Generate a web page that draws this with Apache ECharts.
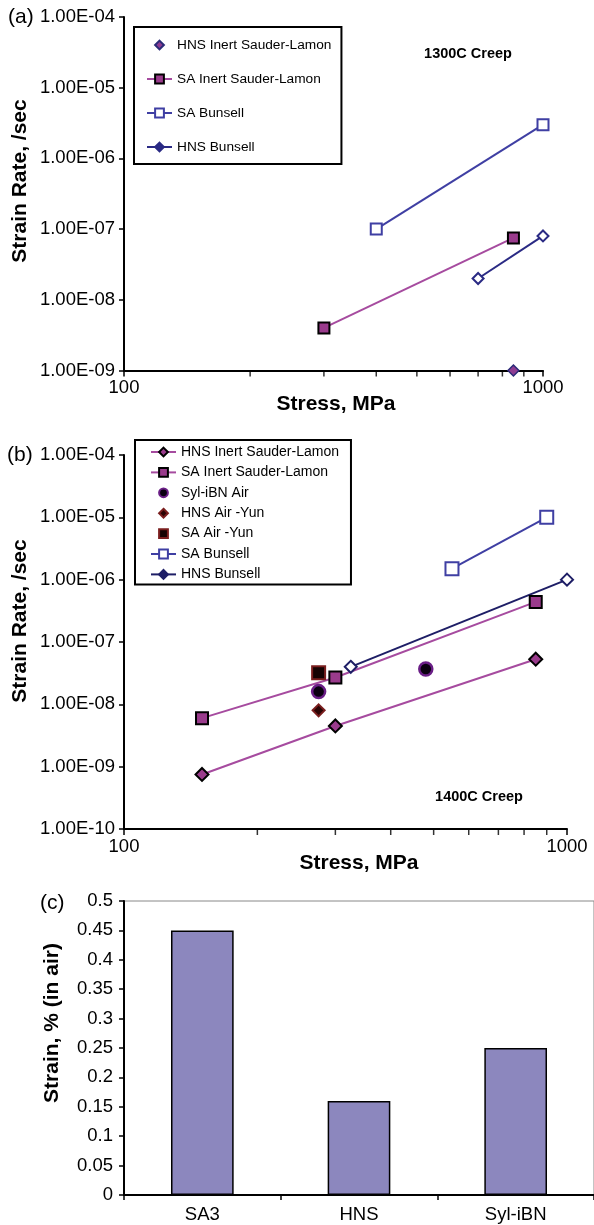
<!DOCTYPE html>
<html><head><meta charset="utf-8">
<script src="https://cdn.jsdelivr.net/npm/echarts@6/dist/echarts.min.js"></script>
<style>
html,body{margin:0;padding:0;background:#fff;width:594px;height:1225px;overflow:hidden}
#a,#b,#c{position:absolute;left:0;width:594px}
#a{top:0;height:430px}#b{top:430px;height:450px}#c{top:880px;height:345px}
</style></head><body>
<div id="a"></div><div id="b"></div><div id="c"></div>
<script>
// ---------- data ----------
const stressMin = 100, stressMax = 1000;
const stressMinorTicks = [200, 300, 400, 500, 600, 700, 800, 900];
// Panel (a) 1300C creep: [stress MPa, strain rate /sec]
const a_HNSInertSL = [[850, 1e-9]];
const a_SAInertSL = [[300, 4e-9], [850, 7.5e-8]];
const a_SABunsell = [[400, 1e-7], [1000, 3e-6]];
const a_HNSBunsell = [[700, 2e-8], [1000, 8e-8]];
const a_rateMin = 1e-9, a_rateMax = 1e-4;
// Panel (b) 1400C creep
const b_HNSInertSL = [[150, 7.5e-10], [300, 4.5e-9], [850, 5.3e-8]];
const b_SAInertSL = [[150, 6e-9], [300, 2.7e-8], [850, 4.4e-7]];
const b_SylAir = [[275, 1.6e-8], [480, 3.7e-8]];
const b_HNSAirYun = [[275, 8e-9]];
const b_SAAirYun = [[275, 3.2e-8]];
const b_SABunsell = [[550, 1.5e-6], [900, 1e-5]];
const b_HNSBunsell = [[325, 4e-8], [1000, 1e-6]];
const b_rateMin = 1e-10, b_rateMax = 1e-4;
// Panel (c)
const c_categories = ['SA3', 'HNS', 'Syl-iBN'];
const c_strain = [0.45, 0.16, 0.25];
const c_min = 0, c_max = 0.5, c_interval = 0.05;

// ---------- styling helpers ----------
const FONT = "'Liberation Sans', Arial, sans-serif";
const MAGENTA = '#A64B9F', MAGFILL = '#9A3B8C', BLUE = '#3F3FA3', NAVY_A = '#2A2A84', NAVY_B = '#1E1E66';

function sciLabel(v) {
  const s = Number(v).toExponential(2).toUpperCase();
  const m = s.match(/^(.*)E([+-])(\d+)$/);
  return m ? m[1] + 'E' + m[2] + m[3].padStart(2, '0') : s;
}
function logX() {
  return {
    type: 'log', logBase: 10, min: stressMin, max: stressMax, splitNumber: 1,
    axisLine: {show: true, lineStyle: {color: '#000', width: 2}},
    axisTick: {show: true, length: 6, lineStyle: {color: '#000', width: 1.5}},
    axisLabel: {color: '#000', fontSize: 18.5, fontFamily: FONT, margin: 8, formatter: v => String(Math.round(v))},
    splitLine: {show: false}
  };
}
function logY(min, max, split) {
  return {
    type: 'log', logBase: 10, min: min, max: max, splitNumber: split,
    axisLine: {show: true, lineStyle: {color: '#000', width: 2}},
    axisTick: {show: true, length: 5, lineStyle: {color: '#000', width: 1.5}},
    axisLabel: {color: '#000', fontSize: 18.5, fontFamily: FONT, margin: 9, formatter: sciLabel},
    splitLine: {show: false}
  };
}
function minorTickSeries(yMin) {
  return {
    type: 'scatter', silent: true, clip: false, z: 1, legendHoverLink: false,
    data: stressMinorTicks.map(v => [v, yMin]),
    symbol: 'rect', symbolSize: [1.5, 6], symbolOffset: [0, 3],
    itemStyle: {color: '#000'}
  };
}
// markers only (no connecting line): line series with hidden line, so the legend icon keeps its aspect
function markers(name, data, symbol, size, itemStyle) {
  return {
    name: name, type: 'line', data: data, symbol: symbol, symbolSize: size, showSymbol: true,
    clip: false, z: 5, emphasis: {disabled: true},
    lineStyle: {width: 0, opacity: 0}, itemStyle: itemStyle
  };
}
function txt(x, y, text, size, bold, align, rot) {
  return {
    type: 'text', x: x, y: y, rotation: rot || 0, silent: true,
    style: {text: text, fill: '#000', font: (bold ? 'bold ' : '') + size + 'px ' + FONT,
      align: align || 'center', verticalAlign: 'middle'}
  };
}
const noEmph = {disabled: true};

// ---------- chart (a) ----------
const ca = echarts.init(document.getElementById('a'), null, {renderer: 'canvas'});
ca.setOption({
  animation: false,
  grid: {left: 124, top: 17, width: 419, height: 353.5},
  xAxis: logX(),
  yAxis: logY(a_rateMin, a_rateMax, 5),
  legend: {
    orient: 'vertical', left: 134, top: 27, itemWidth: 25, itemHeight: 11, itemGap: 20,
    padding: [11, 10, 10, 12], backgroundColor: '#fff', borderColor: '#000', borderWidth: 2,
    selectedMode: false, textStyle: {fontSize: 13.7, fontFamily: FONT, color: '#000'},
    data: ['HNS Inert Sauder-Lamon', 'SA Inert Sauder-Lamon', 'SA Bunsell',
      {name: 'HNS Bunsell', itemStyle: {color: NAVY_A}}]
  },
  graphic: [
    txt(8, 17, '(a)', 21, false, 'left'),
    txt(468, 54, '1300C Creep', 14.5, true),
    txt(20, 181, 'Strain Rate, /sec', 21, true, 'center', Math.PI / 2),
    txt(336, 404, 'Stress, MPa', 21, true)
  ],
  series: [
    {name: 'SA Inert Sauder-Lamon', type: 'line', data: a_SAInertSL, symbol: 'rect', symbolSize: 11, emphasis: noEmph,
      lineStyle: {color: MAGENTA, width: 2}, itemStyle: {color: MAGFILL, borderColor: '#000', borderWidth: 2}},
    {name: 'SA Bunsell', type: 'line', data: a_SABunsell, symbol: 'rect', symbolSize: 11, emphasis: noEmph,
      lineStyle: {color: BLUE, width: 2}, itemStyle: {color: '#fff', borderColor: BLUE, borderWidth: 2}},
    {name: 'HNS Bunsell', type: 'line', data: a_HNSBunsell, symbol: 'diamond', symbolSize: 11, emphasis: noEmph,
      lineStyle: {color: NAVY_A, width: 2}, itemStyle: {color: '#fff', borderColor: NAVY_A, borderWidth: 2}},
    minorTickSeries(a_rateMin),
    markers('HNS Inert Sauder-Lamon', a_HNSInertSL, 'diamond', 11,
      {color: '#8E3C92', borderColor: '#2B2B78', borderWidth: 1.5})
  ]
});

// ---------- chart (b) ----------
const cb = echarts.init(document.getElementById('b'), null, {renderer: 'canvas'});
cb.setOption({
  animation: false,
  grid: {left: 124, top: 25, width: 443, height: 374},
  xAxis: logX(),
  yAxis: logY(b_rateMin, b_rateMax, 6),
  legend: {
    orient: 'vertical', left: 135, top: 10, itemWidth: 25, itemHeight: 11, itemGap: 6.4,
    padding: [5, 12, 3, 15], backgroundColor: '#fff', borderColor: '#000', borderWidth: 2,
    selectedMode: false, textStyle: {fontSize: 14, fontFamily: FONT, color: '#000'},
    data: ['HNS Inert Sauder-Lamon', 'SA Inert Sauder-Lamon', 'Syl-iBN Air', 'HNS Air -Yun', 'SA Air -Yun',
      'SA Bunsell', {name: 'HNS Bunsell', itemStyle: {color: NAVY_B}}]
  },
  graphic: [
    txt(7, 25, '(b)', 21, false, 'left'),
    txt(479, 367, '1400C Creep', 14.5, true),
    txt(20, 191, 'Strain Rate, /sec', 21, true, 'center', Math.PI / 2),
    txt(359, 433, 'Stress, MPa', 21, true)
  ],
  series: [
    {name: 'HNS Inert Sauder-Lamon', type: 'line', data: b_HNSInertSL, symbol: 'diamond', symbolSize: 13, emphasis: noEmph,
      lineStyle: {color: MAGENTA, width: 2}, itemStyle: {color: MAGFILL, borderColor: '#000', borderWidth: 2}},
    {name: 'SA Inert Sauder-Lamon', type: 'line', data: b_SAInertSL, symbol: 'rect', symbolSize: 12, emphasis: noEmph,
      lineStyle: {color: MAGENTA, width: 2}, itemStyle: {color: MAGFILL, borderColor: '#000', borderWidth: 2}},
    {name: 'SA Bunsell', type: 'line', data: b_SABunsell, symbol: 'rect', symbolSize: 13, emphasis: noEmph,
      lineStyle: {color: BLUE, width: 2}, itemStyle: {color: '#fff', borderColor: BLUE, borderWidth: 2}},
    {name: 'HNS Bunsell', type: 'line', data: b_HNSBunsell, symbol: 'diamond', symbolSize: 12, emphasis: noEmph,
      lineStyle: {color: NAVY_B, width: 2}, itemStyle: {color: '#fff', borderColor: NAVY_B, borderWidth: 2}},
    markers('Syl-iBN Air', b_SylAir, 'circle', 13, {color: '#0a0010', borderColor: '#6A1E86', borderWidth: 2.5}),
    markers('HNS Air -Yun', b_HNSAirYun, 'diamond', 12, {color: '#2a0505', borderColor: '#7A1E1E', borderWidth: 2}),
    markers('SA Air -Yun', b_SAAirYun, 'rect', 13, {color: '#150202', borderColor: '#7A1E1E', borderWidth: 2}),
    minorTickSeries(b_rateMin)
  ]
});

// ---------- chart (c) ----------
const cc = echarts.init(document.getElementById('c'), null, {renderer: 'canvas'});
cc.setOption({
  animation: false,
  grid: {left: 124, top: 21, height: 294, right: -21.4, show: true, borderColor: '#888', borderWidth: 1},
  xAxis: {
    type: 'category', data: c_categories,
    axisLine: {lineStyle: {color: '#000', width: 2}},
    axisTick: {show: true, length: 5, lineStyle: {color: '#000', width: 1.5}},
    axisLabel: {color: '#000', fontSize: 18.5, fontFamily: FONT, margin: 10}
  },
  yAxis: {
    type: 'value', min: c_min, max: c_max, interval: c_interval,
    axisLine: {show: true, lineStyle: {color: '#000', width: 2}},
    axisTick: {show: true, length: 5, lineStyle: {color: '#000', width: 1.5}},
    axisLabel: {color: '#000', fontSize: 18.5, fontFamily: FONT, margin: 11},
    splitLine: {show: false}
  },
  graphic: [
    txt(40, 23, '(c)', 21, false, 'left'),
    txt(52, 143, 'Strain, % (in air)', 21, true, 'center', Math.PI / 2)
  ],
  series: [
    {type: 'bar', data: c_strain, barWidth: '40%', emphasis: noEmph,
      itemStyle: {color: '#8C87BE', borderColor: '#000', borderWidth: 1.5}}
  ]
});
</script></body></html>
